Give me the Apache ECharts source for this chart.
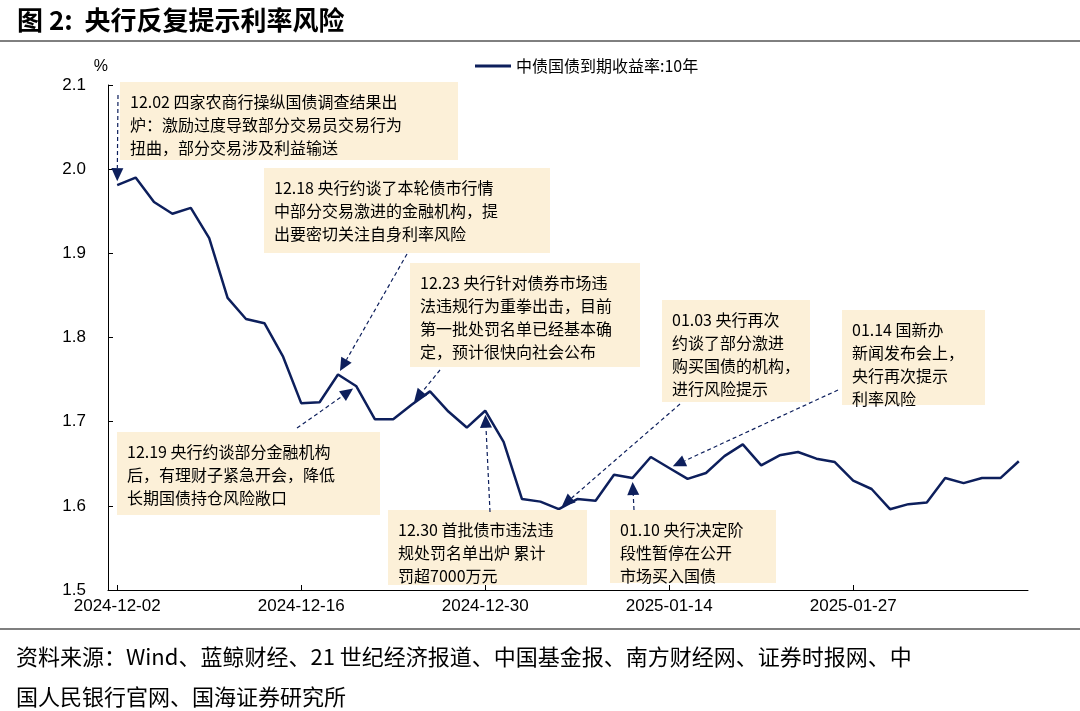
<!DOCTYPE html>
<html><head><meta charset="utf-8">
<script src="https://cdn.jsdelivr.net/npm/echarts@6/dist/echarts.min.js"></script>
<style>html,body{margin:0;padding:0;background:#fff}#c{width:1080px;height:711px}</style>
</head><body><div id="c"></div>
<script>
const dates = ["2024-12-02","2024-12-03","2024-12-04","2024-12-05","2024-12-06","2024-12-09","2024-12-10","2024-12-11","2024-12-12","2024-12-13",
"2024-12-16","2024-12-17","2024-12-18","2024-12-19","2024-12-20","2024-12-23","2024-12-24","2024-12-25","2024-12-26","2024-12-27",
"2024-12-30","2024-12-31","2025-01-02","2025-01-03","2025-01-06","2025-01-07","2025-01-08","2025-01-09","2025-01-10","2025-01-13",
"2025-01-14","2025-01-15","2025-01-16","2025-01-17","2025-01-20","2025-01-21","2025-01-22","2025-01-23","2025-01-24","2025-01-26",
"2025-01-27","2025-02-05","2025-02-06","2025-02-07","2025-02-08","2025-02-10","2025-02-11","2025-02-12","2025-02-13","2025-02-14"];
const yield10y = [1.981,1.990,1.961,1.947,1.954,1.918,1.847,1.822,1.817,1.778,
1.722,1.723,1.756,1.742,1.703,1.703,1.720,1.736,1.712,1.693,
1.713,1.676,1.608,1.605,1.596,1.608,1.606,1.637,1.633,1.658,
1.645,1.632,1.639,1.659,1.673,1.648,1.660,1.664,1.656,1.652,
1.630,1.620,1.596,1.602,1.604,1.633,1.627,1.633,1.633,1.653];
const seriesName = "中债国债到期收益率:10年";
const notes = [
 {idx:0, box:[120,82,338,78], text:"12.02 四家农商行操纵国债调查结果出\n炉：激励过度导致部分交易员交易行为\n扭曲，部分交易涉及利益输送", from:[118,95]},
 {idx:12, box:[264,168,286,85], text:"12.18 央行约谈了本轮债市行情\n中部分交易激进的金融机构，提\n出要密切关注自身利率风险", from:[407,254]},
 {idx:16, box:[410,263,230,104], text:"12.23 央行针对债券市场违\n法违规行为重拳出击，目前\n第一批处罚名单已经基本确\n定，预计很快向社会公布", from:[440,370]},
 {idx:13, box:[117,432,263,83], text:"12.19 央行约谈部分金融机构\n后，有理财子紧急开会，降低\n长期国债持仓风险敞口", from:[297,428]},
 {idx:20, box:[388,510,199,75], text:"12.30 首批债市违法违\n规处罚名单出炉 累计\n罚超7000万元", from:[490,512]},
 {idx:24, box:[662,300,148,102], text:"01.03 央行再次\n约谈了部分激进\n购买国债的机构，\n进行风险提示", from:[680,404]},
 {idx:28, box:[610,510,166,73], text:"01.10 央行决定阶\n段性暂停在公开\n市场买入国债", from:[634,510]},
 {idx:30, box:[842,310,143,95], text:"01.14 国新办\n新闻发布会上，\n央行再次提示\n利率风险", from:[838,390]}
];
const navy = "#0d1f5c";
const chart = echarts.init(document.getElementById('c'));
chart.setOption({
  animation:false,
  textStyle:{fontFamily:"Arial, 'Liberation Sans', 'Noto Sans CJK SC'"},
  title:{text:"图 2:  央行反复提示利率风险", left:12, top:2, textStyle:{fontSize:26,fontWeight:'bold',color:'#000',fontFamily:"'Noto Sans CJK SC'"}},
  legend:{top:53,left:470,itemWidth:36,itemHeight:3,icon:'rect',textStyle:{fontSize:16,color:'#000',fontFamily:"'Noto Sans CJK SC'"},data:[seriesName]},
  grid:{left:108,right:52,top:85,bottom:121},
  xAxis:{type:'category',data:dates,boundaryGap:true,
    axisLine:{lineStyle:{color:'#000'}},axisTick:{show:true,inside:true,interval:9,alignWithLabel:true,lineStyle:{color:'#000'}},
    axisLabel:{interval:9,color:'#000',fontSize:17,margin:8,fontFamily:"Arial, 'Liberation Sans'"}},
  yAxis:{type:'value',min:1.5,max:2.1,interval:0.1,name:'%',nameGap:10,
    nameTextStyle:{color:'#000',fontSize:16,align:'right'},
    axisLine:{show:true,lineStyle:{color:'#000'}},axisTick:{show:true,inside:true,lineStyle:{color:'#000'}},
    splitLine:{show:false},axisLabel:{color:'#000',fontSize:17,margin:22,formatter:v=>v.toFixed(1),fontFamily:"Arial, 'Liberation Sans'"}},
  series:[{name:seriesName,type:'line',data:yield10y,symbol:'none',lineStyle:{color:navy,width:2.5},itemStyle:{color:navy}}]
});
const g = [];
g.push({type:'line',shape:{x1:0,y1:41,x2:1080,y2:41},style:{stroke:'#000',lineWidth:1}});
g.push({type:'line',shape:{x1:0,y1:629,x2:1080,y2:629},style:{stroke:'#000',lineWidth:1.2}});
g.push({type:'text',left:16,top:637,style:{text:"资料来源：Wind、蓝鲸财经、21 世纪经济报道、中国基金报、南方财经网、证券时报网、中\n国人民银行官网、国海证券研究所",fontSize:22,lineHeight:40,fill:'#000',fontFamily:"'Noto Sans CJK SC'"}});
notes.forEach(n=>{
  const [bx,by,bw,bh]=n.box;
  g.push({type:'rect',shape:{x:bx,y:by,width:bw,height:bh},style:{fill:'#fcf0d8'},z:10});
  g.push({type:'text',x:bx+10,y:by+8,style:{text:n.text,fontSize:16,lineHeight:23,fill:'#000',fontFamily:"'Noto Sans CJK SC'"},z:11});
  const p = chart.convertToPixel({seriesIndex:0},[n.idx,yield10y[n.idx]]);
  const [fx,fy]=n.from;
  const dx=p[0]-fx, dy=p[1]-fy, L=Math.hypot(dx,dy), ux=dx/L, uy=dy/L;
  const tx=p[0]-ux*4, ty=p[1]-uy*4;
  const bx2=tx-ux*13, by2=ty-uy*13;
  g.push({type:'line',shape:{x1:fx,y1:fy,x2:bx2,y2:by2},style:{stroke:navy,lineWidth:1.2,lineDash:[4,3]},z:12});
  g.push({type:'polygon',shape:{points:[[tx,ty],[bx2-uy*6,by2+ux*6],[bx2+uy*6,by2-ux*6]]},style:{fill:navy},z:12});
});
chart.setOption({graphic:g});
</script></body></html>
